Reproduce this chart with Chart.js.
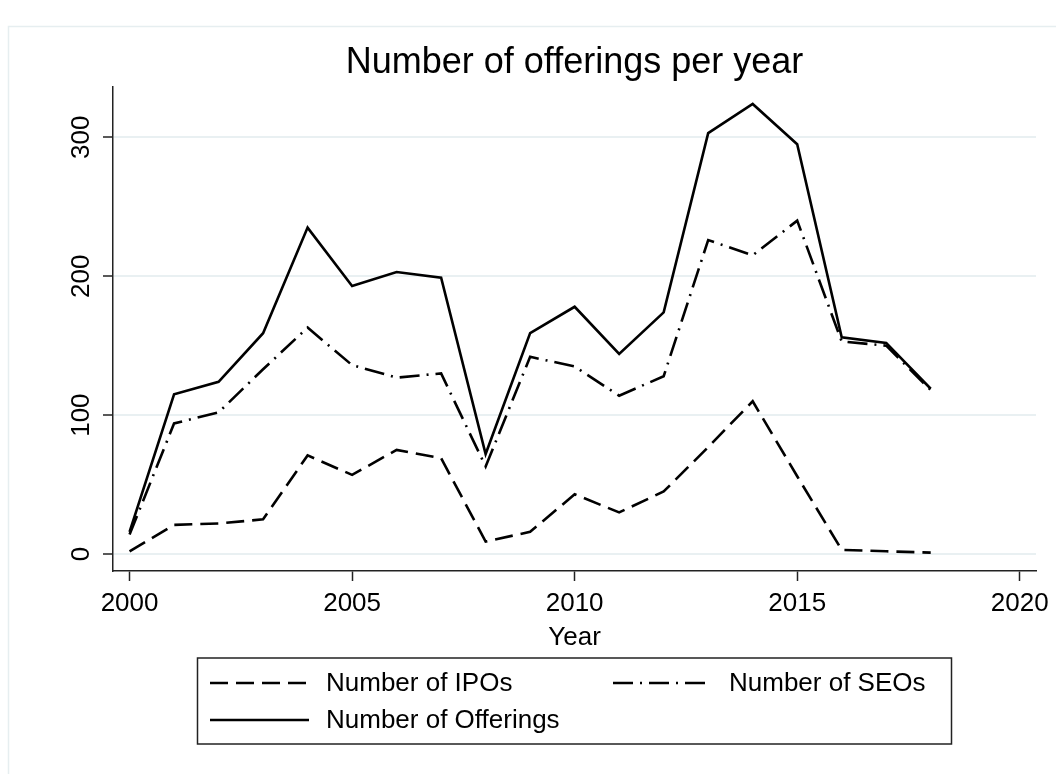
<!DOCTYPE html>
<html>
<head>
<meta charset="utf-8">
<script src="https://cdn.jsdelivr.net/npm/chart.js@4.4.1/dist/chart.umd.min.js"></script>
<style>
  html, body { margin: 0; padding: 0; background: #fff; }
  #wrap { width: 1056px; height: 774px; }
</style>
</head>
<body>
<div id="wrap"><canvas id="offeringsChart" width="1056" height="774"></canvas></div>
<script>
// Data
const years = [2000, 2001, 2002, 2003, 2004, 2005, 2006, 2007, 2008, 2009,
               2010, 2011, 2012, 2013, 2014, 2015, 2016, 2017, 2018];
const ipos = [2, 21, 22, 25, 71, 57, 75, 69, 9, 16, 43, 30, 45, 77, 110, 56, 3, 2, 1];
const seos = [14, 94, 102, 133, 163, 136, 127, 130, 63, 142, 135, 114, 128, 226, 215, 240, 153, 150, 118];
const offerings = [16, 115, 124, 159, 235, 193, 203, 199, 72, 159, 178, 144, 174, 303, 324, 295, 156, 152, 119];
const xTicks = [2000, 2005, 2010, 2015, 2020];
const yTicks = [0, 100, 200, 300];

const FONT = "'Liberation Sans', Arial, sans-serif";

function toPoints(values) {
    return years.map((yr, i) => ({ x: yr, y: values[i] }));
}

// Stata-like decorations: frame, title, rotated y labels, axis title, boxed legend
const stataDecor = {
    id: 'stataDecor',
    beforeDraw(chart) {
        const ctx = chart.ctx;
        ctx.save();
        ctx.strokeStyle = '#e6eef0';
        ctx.lineWidth = 1.5;
        ctx.strokeRect(8.5, 26.5, 1200, 900);
        ctx.restore();
    },
    afterDraw(chart) {
        const ctx = chart.ctx;
        const area = chart.chartArea;
        const yScale = chart.scales.y;
        const cx = (area.left + area.right) / 2;

        ctx.save();
        ctx.fillStyle = '#000';

        // title
        ctx.font = '36px ' + FONT;
        ctx.textAlign = 'center';
        ctx.textBaseline = 'alphabetic';
        ctx.fillText('Number of offerings per year', cx, 73);

        // y tick labels, rotated like Stata
        ctx.font = '26px ' + FONT;
        ctx.textBaseline = 'middle';
        yScale.ticks.forEach(t => {
            const py = yScale.getPixelForValue(t.value);
            ctx.save();
            ctx.translate(82, py);
            ctx.rotate(-Math.PI / 2);
            ctx.fillText(String(t.value), 0, 0);
            ctx.restore();
        });

        // x axis title
        ctx.textBaseline = 'alphabetic';
        ctx.fillText('Year', cx, 645);

        // legend box
        const box = { x: 197.5, y: 658, w: 754, h: 86 };
        ctx.strokeStyle = '#222';
        ctx.lineWidth = 1.5;
        ctx.strokeRect(box.x, box.y, box.w, box.h);

        const slots = [
            { ds: 0, x: 210, y: 683 },
            { ds: 1, x: 613, y: 683 },
            { ds: 2, x: 210, y: 720 }
        ];
        ctx.textAlign = 'left';
        ctx.textBaseline = 'middle';
        slots.forEach(s => {
            const ds = chart.data.datasets[s.ds];
            ctx.save();
            ctx.strokeStyle = ds.borderColor;
            ctx.lineWidth = ds.borderWidth;
            ctx.setLineDash(ds.borderDash || []);
            ctx.beginPath();
            ctx.moveTo(s.x, s.y);
            ctx.lineTo(s.x + 99, s.y);
            ctx.stroke();
            ctx.restore();
            ctx.fillText(ds.label, s.x + 116, s.y + 1);
        });
        ctx.restore();
    }
};

const ctx = document.getElementById('offeringsChart');
new Chart(ctx, {
    type: 'line',
    data: {
        datasets: [
            {
                label: 'Number of IPOs',
                data: toPoints(ipos),
                borderColor: '#000',
                borderWidth: 2.6,
                borderDash: [18, 8],
                pointRadius: 0,
                tension: 0,
                order: 3
            },
            {
                label: 'Number of SEOs',
                data: toPoints(seos),
                borderColor: '#000',
                borderWidth: 2.6,
                borderDash: [20, 7, 2, 7],
                pointRadius: 0,
                tension: 0,
                order: 2
            },
            {
                label: 'Number of Offerings',
                data: toPoints(offerings),
                borderColor: '#000',
                borderWidth: 2.6,
                pointRadius: 0,
                tension: 0,
                order: 1
            }
        ]
    },
    options: {
        responsive: false,
        animation: false,
        devicePixelRatio: 1,
        layout: { padding: { left: 0, right: 19, top: 87, bottom: 0 } },
        plugins: {
            legend: { display: false },
            title: { display: false },
            tooltip: { enabled: false }
        },
        scales: {
            x: {
                type: 'linear',
                min: 1999.628,
                max: 2020.366,
                afterBuildTicks: scale => { scale.ticks = xTicks.map(v => ({ value: v })); },
                afterFit: scale => { scale.height = 203; },
                grid: {
                    drawOnChartArea: false,
                    drawTicks: true,
                    tickLength: 10,
                    tickColor: '#222',
                    tickWidth: 1.5
                },
                border: { color: '#222', width: 1.5 },
                ticks: {
                    color: '#000',
                    font: { family: FONT, size: 26 },
                    padding: 7,
                    maxRotation: 0,
                    callback: v => String(v)
                }
            },
            y: {
                min: -12.2,
                max: 336.2,
                afterBuildTicks: scale => { scale.ticks = yTicks.map(v => ({ value: v })); },
                afterFit: scale => { scale.width = 113; },
                grid: {
                    color: '#e9f0f2',
                    lineWidth: 2,
                    drawTicks: true,
                    tickLength: 10,
                    tickColor: '#222',
                    tickWidth: 1.5
                },
                border: { color: '#222', width: 1.5 },
                ticks: { display: false }
            }
        }
    },
    plugins: [stataDecor]
});
</script>
</body>
</html>
